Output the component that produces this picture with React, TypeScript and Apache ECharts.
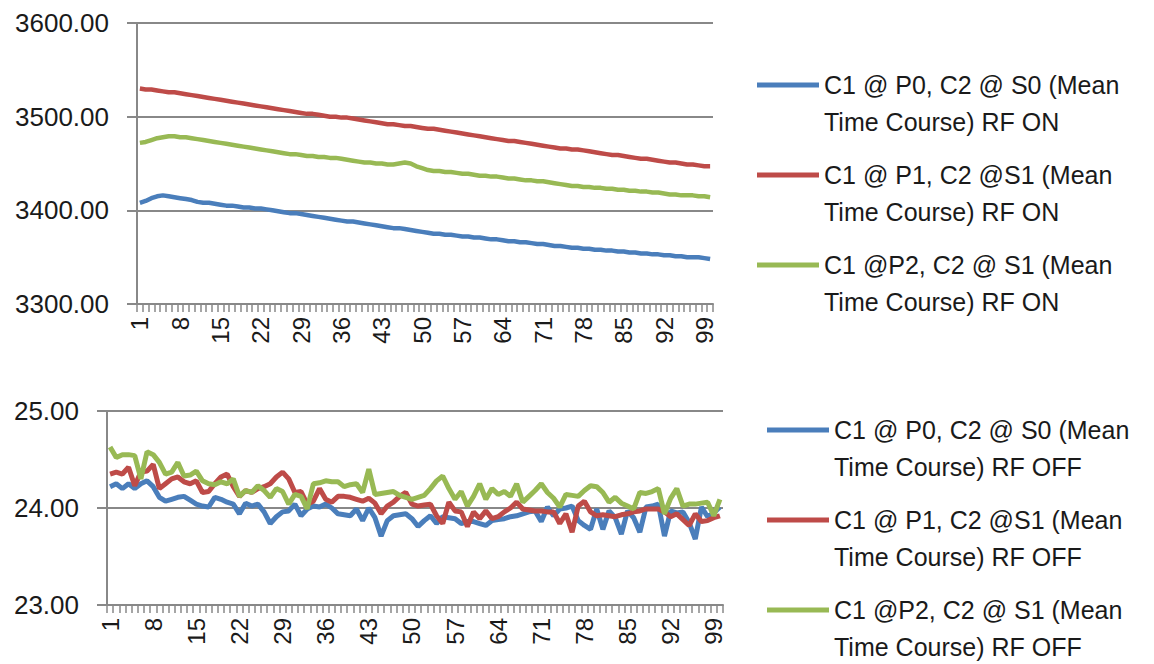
import React, { useEffect, useRef } from "react";
import * as echarts from "echarts";

const categories: string[] = Array.from({ length: 100 }, (_, i) => String(i + 1));

const yTicksTop = [3300, 3400, 3500, 3600];
const yTicksBottom = [23, 24, 25];

const namesOn = [
  "C1 @ P0, C2 @ S0 (Mean\nTime Course) RF ON",
  "C1 @ P1, C2 @S1 (Mean\nTime Course) RF ON",
  "C1 @P2, C2 @ S1 (Mean\nTime Course) RF ON",
];
const namesOff = [
  "C1 @ P0, C2 @ S0 (Mean\nTime Course) RF OFF",
  "C1 @ P1, C2 @S1 (Mean\nTime Course) RF OFF",
  "C1 @P2, C2 @ S1 (Mean\nTime Course) RF OFF",
];

const blueOn = [
  3408, 3410, 3413, 3415, 3416, 3415, 3414, 3413, 3412, 3411,
  3409, 3408, 3408, 3407, 3406, 3405, 3405, 3404, 3403, 3403,
  3402, 3402, 3401, 3400, 3399, 3398, 3397, 3397, 3396, 3395,
  3394, 3393, 3392, 3391, 3390, 3389, 3388, 3388, 3387, 3386,
  3385, 3384, 3383, 3382, 3381, 3381, 3380, 3379, 3378, 3377,
  3376, 3375, 3375, 3374, 3374, 3373, 3372, 3372, 3371, 3371,
  3370, 3369, 3369, 3368, 3367, 3367, 3366, 3366, 3365, 3364,
  3364, 3363, 3362, 3362, 3361, 3360, 3360, 3359, 3359, 3358,
  3358, 3357, 3357, 3356, 3356, 3355, 3355, 3354, 3354, 3353,
  3353, 3352, 3352, 3351, 3351, 3350, 3350, 3350, 3349, 3348,
];
const redOn = [
  3530, 3529, 3529, 3528, 3527, 3526, 3526, 3525, 3524, 3523,
  3522, 3521, 3520, 3519, 3518, 3517, 3516, 3515, 3514, 3513,
  3512, 3511, 3510, 3509, 3508, 3507, 3506, 3505, 3504, 3503,
  3503, 3502, 3501, 3500, 3500, 3499, 3499, 3498, 3497, 3496,
  3495, 3494, 3493, 3492, 3492, 3491, 3490, 3490, 3489, 3488,
  3487, 3487, 3486, 3485, 3484, 3483, 3482, 3481, 3480, 3479,
  3478, 3477, 3476, 3475, 3474, 3474, 3473, 3472, 3471, 3470,
  3469, 3468, 3467, 3466, 3466, 3465, 3465, 3464, 3463, 3462,
  3461, 3460, 3459, 3459, 3458, 3457, 3456, 3455, 3455, 3454,
  3453, 3452, 3451, 3451, 3450, 3449, 3449, 3448, 3447, 3447,
];
const greenOn = [
  3472, 3473, 3475, 3477, 3478, 3479, 3479, 3478, 3478, 3477,
  3476, 3475, 3474, 3473, 3472, 3471, 3470, 3469, 3468, 3467,
  3466, 3465, 3464, 3463, 3462, 3461, 3460, 3460, 3459, 3458,
  3458, 3457, 3457, 3456, 3456, 3455, 3454, 3453, 3452, 3451,
  3451, 3450, 3450, 3449, 3449, 3450, 3451, 3450, 3447, 3445,
  3443, 3442, 3442, 3441, 3441, 3440, 3439, 3439, 3438, 3437,
  3437, 3436, 3436, 3435, 3434, 3434, 3433, 3432, 3432, 3431,
  3431, 3430, 3429, 3428, 3427, 3426, 3426, 3425, 3425, 3424,
  3424, 3423, 3423, 3422, 3422, 3421, 3421, 3420, 3420, 3419,
  3419, 3418, 3417, 3417, 3416, 3416, 3416, 3415, 3415, 3414,
];

const blueOff = [
  24.22, 24.25, 24.2, 24.25, 24.2, 24.25, 24.28, 24.22, 24.11, 24.07,
  24.09, 24.11, 24.12, 24.08, 24.04, 24.02, 24.01, 24.11, 24.09, 24.06,
  24.04, 23.94, 24.05, 24.02, 24.04, 23.96, 23.84, 23.91, 23.96, 23.97,
  24.04, 23.92, 23.99, 24.02, 24.01, 24.04, 24.0, 23.94, 23.93, 23.92,
  23.99, 23.87, 24.0, 23.9, 23.71, 23.87, 23.92, 23.93, 23.94, 23.89,
  23.81, 23.87, 23.92, 23.84, 23.91, 23.9, 23.89, 23.84, 23.86, 23.86,
  23.84, 23.82, 23.87, 23.88, 23.89, 23.91, 23.92, 23.94, 23.96, 23.97,
  23.86, 24.01, 23.92, 23.99, 24.0, 24.02, 23.87, 23.82, 23.78, 23.99,
  23.78, 23.97, 23.9, 23.73, 23.97, 23.9, 23.75, 24.01, 24.02, 24.04,
  23.71, 23.97, 23.95, 23.96, 23.85, 23.68, 24.01, 23.91, 23.95, 24.01,
];
const redOff = [
  24.35, 24.37, 24.35, 24.42, 24.23, 24.37, 24.38, 24.45, 24.2, 24.25,
  24.3, 24.32, 24.27, 24.25, 24.28, 24.16, 24.17, 24.25, 24.32, 24.35,
  24.22, 24.12, 24.18, 24.16, 24.2, 24.22, 24.25, 24.32, 24.37, 24.3,
  24.16, 24.17, 24.04, 24.07, 24.2, 24.09, 24.06, 24.12, 24.12, 24.11,
  24.09, 24.07, 24.1, 24.05, 23.94, 24.02, 24.06, 24.12, 24.16, 24.04,
  24.02, 24.03, 24.04, 23.92, 23.84, 24.06, 23.97, 23.96, 23.81, 23.96,
  23.89, 23.97, 23.89, 23.91, 23.96, 24.0, 24.06, 23.99, 23.98, 23.97,
  23.97, 23.96, 23.96, 23.84, 23.94, 23.75, 24.02, 24.07, 23.96, 23.92,
  23.93, 23.92, 23.91, 23.93, 23.94, 23.96, 23.97, 23.99, 23.99, 23.99,
  23.96, 23.91, 23.94, 23.88, 23.82, 23.94, 23.86, 23.87, 23.9, 23.92,
];
const greenOff = [
  24.63, 24.52, 24.55, 24.55, 24.54, 24.3, 24.58, 24.55, 24.47, 24.35,
  24.37, 24.47, 24.33, 24.34, 24.38, 24.28, 24.25, 24.24, 24.27, 24.25,
  24.3, 24.12, 24.18, 24.16, 24.23, 24.18, 24.11, 24.2, 24.17, 24.04,
  24.14, 24.12, 23.99, 24.25, 24.26, 24.28, 24.27, 24.27, 24.22, 24.24,
  24.25, 24.16, 24.4, 24.14, 24.15, 24.16, 24.17, 24.13, 24.11, 24.09,
  24.11, 24.13, 24.2, 24.28, 24.33, 24.2, 24.09, 24.17, 24.02, 24.12,
  24.25, 24.09, 24.2, 24.14, 24.17, 24.12, 24.25, 24.06, 24.12, 24.18,
  24.25, 24.16, 24.1, 24.01, 24.14, 24.13, 24.12, 24.18, 24.23, 24.22,
  24.16, 24.06, 24.11, 24.05, 24.02, 23.99, 24.16, 24.15, 24.17, 24.2,
  23.94, 24.1, 24.2, 24.02, 24.04, 24.04, 24.05, 24.06, 23.92, 24.09,
];

const colors = ["#4A7EBB", "#BE4B48", "#98B954"];
const FONT = "Liberation Sans";
const TEXT = "#1a1a1a";
const AXIS = "#888888";

export default function App() {
  const ref = useRef<HTMLDivElement>(null);
  useEffect(() => {
    if (!ref.current) return;
    const chart = echarts.init(ref.current, null, { renderer: "svg" });

    const xAxis = (gridIndex: number) => ({
      type: "category",
      gridIndex,
      data: categories,
      boundaryGap: true,
      axisLine: { lineStyle: { color: AXIS, width: 2 } },
      axisTick: { show: true, interval: 0, length: 8, lineStyle: { color: AXIS, width: 1.5 } },
      axisLabel: {
        interval: 6,
        rotate: 90,
        margin: 13,
        fontSize: 24,
        fontFamily: FONT,
        color: TEXT,
      },
      splitLine: { show: false },
    });
    const yAxis = (gridIndex: number, interval: number, ticks: number[]) => ({
      type: "value",
      gridIndex,
      min: ticks[0],
      max: ticks[ticks.length - 1],
      interval,
      axisLine: { show: true, lineStyle: { color: AXIS, width: 2 } },
      axisTick: { show: true, length: 10, lineStyle: { color: AXIS, width: 2 } },
      axisLabel: {
        margin: 28,
        fontSize: 26,
        fontFamily: FONT,
        color: TEXT,
        formatter: (v: number) => v.toFixed(2),
      },
      splitLine: { show: true, lineStyle: { color: AXIS, width: 2 } },
    });

    const legendItem = (name: string, left: number, top: number) => ({
      data: [name],
      left,
      top,
      orient: "vertical",
      padding: 0,
      icon: "rect",
      itemWidth: 62,
      itemHeight: 5,
      selectedMode: false,
      formatter: (n: string) => " \n" + n,
      textStyle: {
        fontSize: 25,
        lineHeight: 37,
        fontFamily: FONT,
        color: TEXT,
      },
    });

    const LH = 55.5;
    const legends = [
      legendItem(namesOn[0], 757, 85 - LH),
      legendItem(namesOn[1], 757, 175 - LH),
      legendItem(namesOn[2], 757, 265 - LH),
      legendItem(namesOff[0], 767, 430 - LH),
      legendItem(namesOff[1], 767, 520 - LH),
      legendItem(namesOff[2], 767, 610 - LH),
    ];

    const mk = (name: string, data: number[], idx: number, color: string, width: number) => ({
      name,
      type: "line",
      xAxisIndex: idx,
      yAxisIndex: idx,
      data,
      showSymbol: false,
      symbol: "none",
      itemStyle: { color },
      lineStyle: { color, width },
    });

    chart.setOption({
      animation: false,
      backgroundColor: "#ffffff",
      grid: [
        { left: 137, top: 23, width: 576, height: 281 },
        { left: 107, top: 411, width: 616, height: 194 },
      ],
      xAxis: [xAxis(0), xAxis(1)],
      yAxis: [yAxis(0, 100, yTicksTop), yAxis(1, 1, yTicksBottom)],
      legend: legends,
      series: [
        mk(namesOn[0], blueOn, 0, colors[0], 4.5),
        mk(namesOn[1], redOn, 0, colors[1], 4.5),
        mk(namesOn[2], greenOn, 0, colors[2], 4.5),
        mk(namesOff[0], blueOff, 1, colors[0], 5),
        mk(namesOff[1], redOff, 1, colors[1], 5),
        mk(namesOff[2], greenOff, 1, colors[2], 5),
      ],
    });
    return () => chart.dispose();
  }, []);
  return (
    <div
      ref={ref}
      style={{ position: "absolute", left: 0, top: 0, width: 1154, height: 664 }}
    />
  );
}
